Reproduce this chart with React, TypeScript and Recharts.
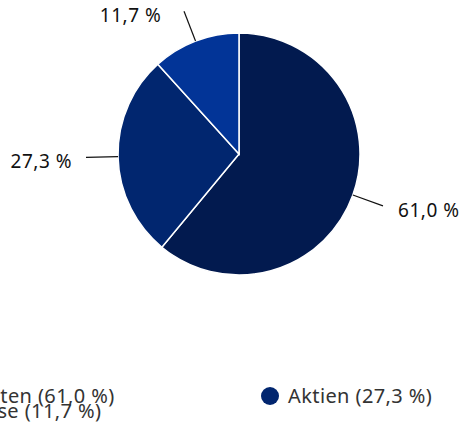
import React from 'react';
import { PieChart, Pie, Cell, Legend } from 'recharts';

const categories = ['Renten', 'Aktien', 'Kasse'];
const values = [61.0, 27.3, 11.7];
const colors = ['#021a4f', '#01266f', '#023497'];

const data = categories.map((name, i) => ({ name, value: values[i] }));

const FONT = '"Noto Sans", sans-serif';
const fmt = (v: number) => v.toFixed(1).replace('.', ',') + ' %';
const RAD = Math.PI / 180;

const renderLabel = (props: any) => {
  const { cx, cy, midAngle, outerRadius, value } = props;
  const c = Math.cos(-midAngle * RAD);
  const s = Math.sin(-midAngle * RAD);
  const x1 = cx + outerRadius * c;
  const y1 = cy + outerRadius * s;
  const x2 = cx + (outerRadius + 32) * c;
  const y2 = cy + (outerRadius + 32) * s;
  const right = c >= 0;
  const gap = 14 + 10 * s * s;
  const tx = right ? x2 + gap : x2 - gap;
  return (
    <g>
      <line x1={x1} y1={y1} x2={x2} y2={y2} stroke="#111" strokeWidth={1.2} />
      <text
        x={tx}
        y={y2 + 4}
        textAnchor={right ? 'start' : 'end'}
        dominantBaseline="central"
        fontFamily={FONT}
        fontSize={19}
        letterSpacing={0.5}
        fill="#111"
      >
        {fmt(value)}
      </text>
    </g>
  );
};

const renderLegend = (props: any) => {
  const payload = props.payload || [];
  const cells = payload.map((p: any, i: number) => (
    <div
      key={i}
      style={{
        display: 'flex',
        alignItems: 'center',
        height: 15,
        gridColumn: (i % 2) + 1,
        gridRow: Math.floor(i / 2) + 1,
        whiteSpace: 'nowrap',
      }}
    >
      <span
        style={{
          display: 'inline-block',
          width: 18,
          height: 18,
          borderRadius: '50%',
          background: colors[i],
          marginRight: 9,
          flexShrink: 0,
        }}
      />
      <span
        style={{
          fontFamily: FONT,
          fontSize: 20,
          letterSpacing: 0.4,
          color: '#333',
          lineHeight: '15px',
        }}
      >
        {`${categories[i]} (${fmt(values[i])})`}
      </span>
    </div>
  ));
  return (
    <div style={{ display: 'grid', gridTemplateColumns: '325px 300px', gridAutoRows: '15px' }}>
      {cells}
    </div>
  );
};

export default function App() {
  return (
    <div style={{ position: 'absolute', left: 0, top: 0, width: 460, height: 427, background: '#fff' }}>
      <PieChart
        width={460}
        height={427}
        margin={{ top: 0, right: 0, bottom: 0, left: 0 }}
        style={{ overflow: 'visible' }}
      >
        <Pie
          data={data}
          dataKey="value"
          nameKey="name"
          cx={239}
          cy={154}
          outerRadius={121}
          startAngle={90}
          endAngle={-270}
          stroke="#fff"
          strokeWidth={1.5}
          label={renderLabel}
          labelLine={false}
          isAnimationActive={false}
        >
          {data.map((d, i) => (
            <Cell key={d.name} fill={colors[i]} />
          ))}
        </Pie>
        <Legend
          content={renderLegend}
          wrapperStyle={{ position: 'absolute', left: -64, top: 388, width: 640 }}
        />
      </PieChart>
    </div>
  );
}
